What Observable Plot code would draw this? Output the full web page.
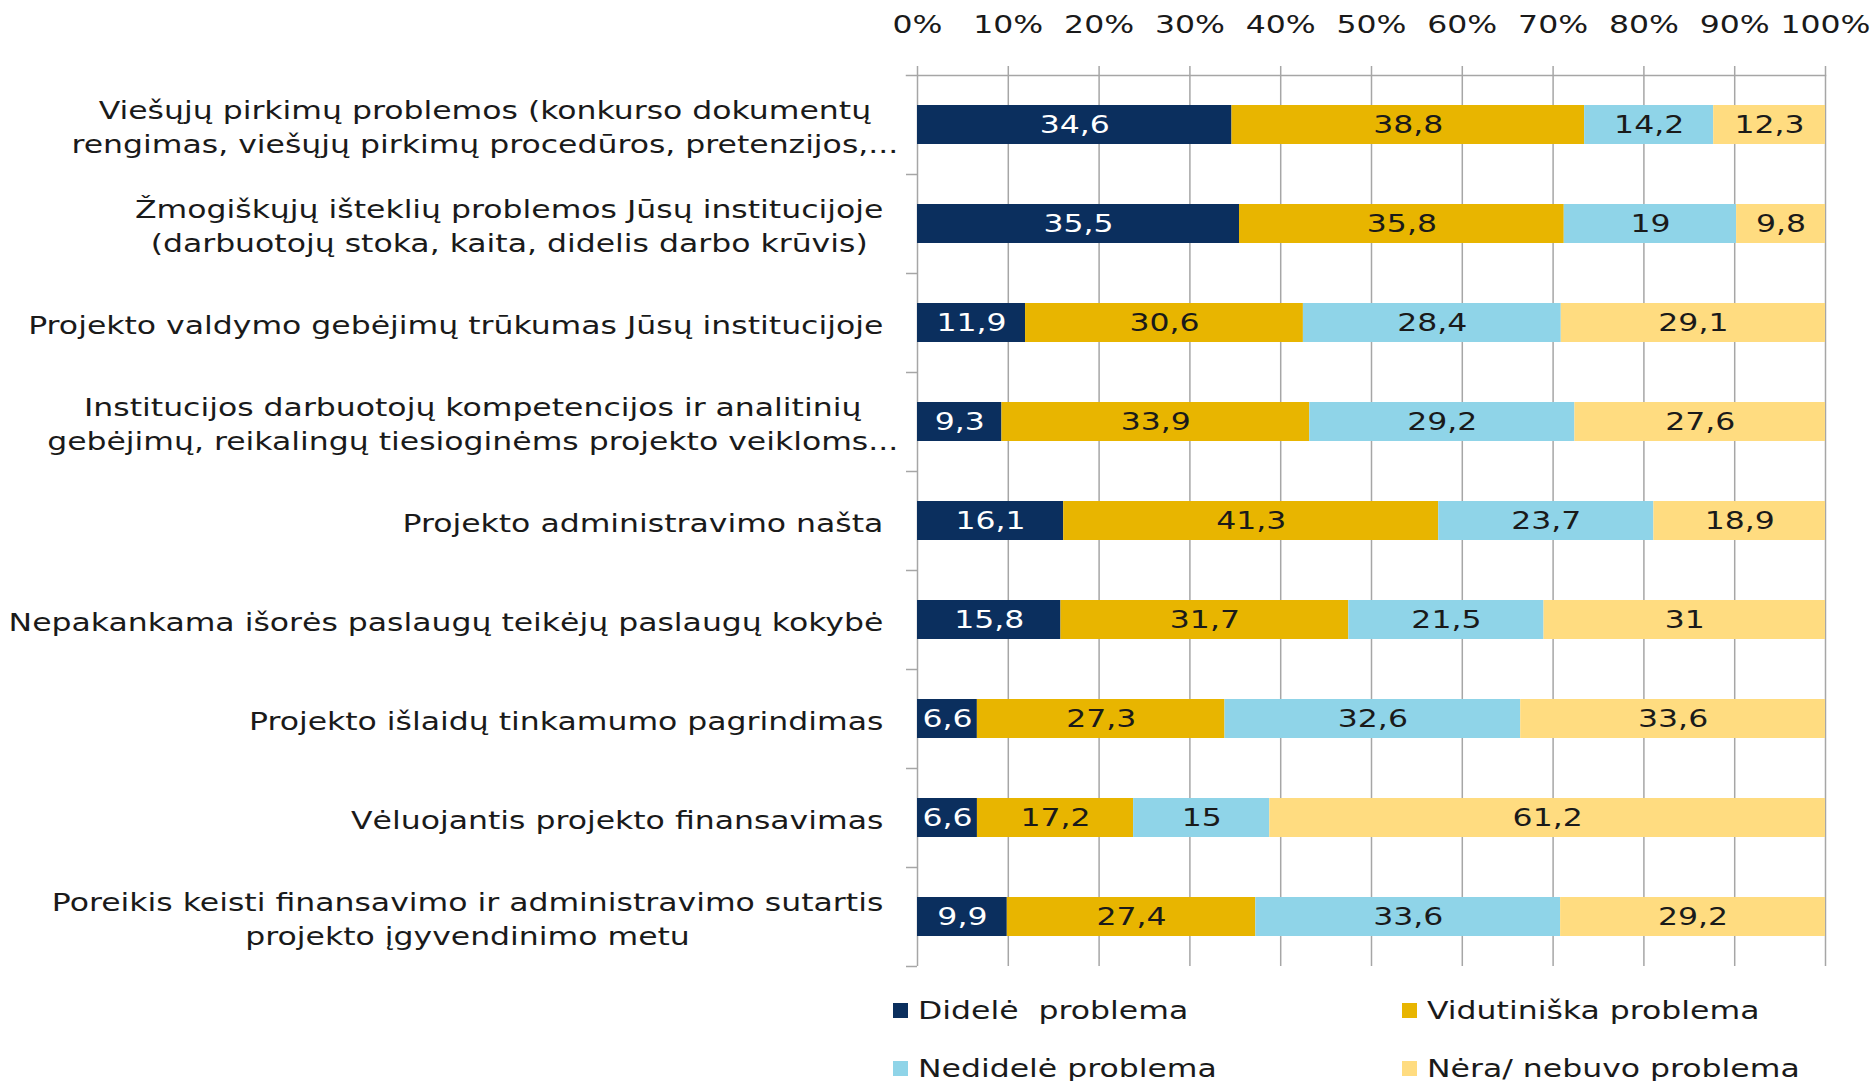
<!DOCTYPE html>
<html>
<head>
<meta charset="utf-8">
<script src="https://cdn.jsdelivr.net/npm/d3@7"></script>
<script src="https://cdn.jsdelivr.net/npm/@observablehq/plot@0.6"></script>
<style>
  html, body { margin: 0; padding: 0; background: #fff; overflow: hidden; }
  #wrap { position: relative; width: 1876px; height: 1081px; font-family: "DejaVu Sans", Verdana, sans-serif; color: #1a1a1a; }
  #legend { position: absolute; left: 893px; top: 985px; display: grid; grid-template-columns: 509px 400px; grid-template-rows: 50px 50px; row-gap: 8px; }
  .item { display: flex; align-items: center; white-space: pre; font-size: 25px; }
  .sw { width: 15px; height: 15px; margin-right: 10px; flex: none; }
  .lab { display: inline-block; transform: scaleX(1.26); transform-origin: left center; }
</style>
</head>
<body>
<div id="wrap"><div id="chart"></div><div id="legend"></div></div>
<script>
// ---- data ----
const categories = [
  "Viešųjų pirkimų problemos (konkurso dokumentų\nrengimas, viešųjų pirkimų procedūros, pretenzijos,...",
  "Žmogiškųjų išteklių problemos Jūsų institucijoje\n(darbuotojų stoka, kaita, didelis darbo krūvis)",
  "Projekto valdymo gebėjimų trūkumas Jūsų institucijoje",
  "Institucijos darbuotojų kompetencijos ir analitinių\ngebėjimų, reikalingų tiesioginėms projekto veikloms...",
  "Projekto administravimo našta",
  "Nepakankama išorės paslaugų teikėjų paslaugų kokybė",
  "Projekto išlaidų tinkamumo pagrindimas",
  "Vėluojantis projekto finansavimas",
  "Poreikis keisti finansavimo ir administravimo sutartis\nprojekto įgyvendinimo metu"
];
const seriesNames = ["Didelė  problema", "Vidutiniška problema", "Nedidelė problema", "Nėra/ nebuvo problema"];
const didele      = [34.6, 35.5, 11.9,  9.3, 16.1, 15.8,  6.6,  6.6,  9.9];
const vidutiniska = [38.8, 35.8, 30.6, 33.9, 41.3, 31.7, 27.3, 17.2, 27.4];
const nedidele    = [14.2, 19.0, 28.4, 29.2, 23.7, 21.5, 32.6, 15.0, 33.6];
const nera        = [12.3,  9.8, 29.1, 27.6, 18.9, 31.0, 33.6, 61.2, 29.2];
const xTicks = [0, 0.1, 0.2, 0.3, 0.4, 0.5, 0.6, 0.7, 0.8, 0.9, 1];
const xTickLabels = ["0%", "10%", "20%", "30%", "40%", "50%", "60%", "70%", "80%", "90%", "100%"];
const colors = ["#0b2f5e", "#e8b500", "#8fd4e8", "#ffdc80"];

// ---- table ----
const seriesValues = [didele, vidutiniska, nedidele, nera];
const table = [];
categories.forEach((c, i) => {
  seriesNames.forEach((s, j) => table.push({category: c, series: s, value: seriesValues[j][i]}));
});
const fmt = v => String(v).replace(".", ",");

// ---- layout ----
const W = 1876, H = 985, mTop = 75, mBottom = 19, mLeft = 917, mRight = 51;
const FS = 25, SX = 1.26;
const step = (H - mTop - mBottom) / categories.length;
const xPerPx = 1 / (W - mLeft - mRight);

// measure label widths
const ctx = document.createElement("canvas").getContext("2d");
ctx.font = `${FS}px "DejaVu Sans"`;
const labelWidth = c => Math.max(...c.split("\n").map(l => ctx.measureText(l.replace(/\.\.\.$/, "")).width)) * SX;
const gap = 34;

const yLabelMarks = categories.map(c =>
  Plot.text([c], {
    y: d => d, text: d => d, frameAnchor: "left", textAnchor: "middle",
    dx: -(gap + labelWidth(c) / 2), lineHeight: 1.35, fill: "#1a1a1a"
  })
);

const plot = Plot.plot({
  width: W, height: H,
  marginTop: mTop, marginBottom: mBottom, marginLeft: mLeft, marginRight: mRight,
  style: {fontFamily: '"DejaVu Sans", Verdana, sans-serif', fontSize: FS + "px", color: "#1a1a1a", background: "white"},
  x: {domain: [0, 1], axis: null},
  y: {domain: categories, axis: null, paddingInner: 0.61, paddingOuter: 0.305},
  color: {domain: seriesNames, range: colors},
  marks: [
    Plot.ruleX(xTicks, {x: d => d, stroke: "#a6a6a6", strokeWidth: 1.5, insetTop: -9}),
    Plot.frame({anchor: "top", stroke: "#a6a6a6", strokeWidth: 1.5, insetLeft: -11}),
    Plot.ruleY(categories, {y: d => d, dy: step / 2, x1: -11 * xPerPx, x2: 0, stroke: "#a6a6a6", strokeWidth: 1.5}),
    Plot.barX(table, Plot.stackX({x: "value", y: "category", fill: "series", offset: "normalize"})),
    Plot.text(table, Plot.filter(d => d.series === seriesNames[0],
      Plot.stackX({x: "value", y: "category", z: "series", text: d => fmt(d.value), offset: "normalize", fill: "white"}))),
    Plot.text(table, Plot.filter(d => d.series !== seriesNames[0],
      Plot.stackX({x: "value", y: "category", z: "series", text: d => fmt(d.value), offset: "normalize", fill: "#1a1a1a"}))),
    Plot.axisX(xTicks, {anchor: "top", label: null, tickSize: 0, tickPadding: 43, tickFormat: (d, i) => xTickLabels[i], fill: "#1a1a1a"}),
    ...yLabelMarks
  ]
});

// horizontal stretch of all texts, as in the reference
plot.querySelectorAll("text").forEach(t => {
  const tr = t.getAttribute("transform") || "";
  t.setAttribute("transform", tr + ` scale(${SX},1)`);
});
document.getElementById("chart").appendChild(plot);

// ---- legend ----
const legend = document.getElementById("legend");
const legendOrder = [0, 1, 2, 3];
legendOrder.forEach(j => {
  const it = document.createElement("div");
  it.className = "item";
  const sw = document.createElement("span");
  sw.className = "sw";
  sw.style.background = colors[j];
  const lb = document.createElement("span");
  lb.className = "lab";
  lb.textContent = seriesNames[j];
  it.appendChild(sw); it.appendChild(lb);
  legend.appendChild(it);
});
</script>
</body>
</html>
